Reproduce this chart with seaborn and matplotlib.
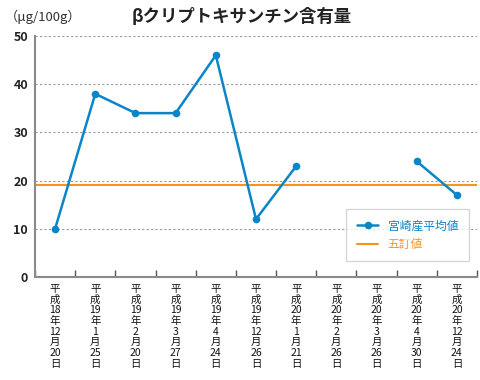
"""βクリプトキサンチン含有量 chart (宮崎産平均値 vs 五訂値)."""

import numpy as np
import pandas as pd
import matplotlib
matplotlib.use("Agg")
import matplotlib.pyplot as plt
from matplotlib.lines import Line2D
from matplotlib.ticker import FixedLocator
import seaborn as sns

# data
dates = [
    ("18", "12", "20"), ("19", "1", "25"), ("19", "2", "20"), ("19", "3", "27"),
    ("19", "4", "24"), ("19", "12", "26"), ("20", "1", "21"), ("20", "2", "26"),
    ("20", "3", "26"), ("20", "4", "30"), ("20", "12", "24"),
]
miyazaki_avg = [10, 38, 34, 34, 46, 12, 23, np.nan, np.nan, 24, 17]
goteichi = 19
y_ticks = [0, 10, 20, 30, 40, 50]

BLUE = "#0a86c8"
ORANGE = "#f7941d"

sns.set_theme(style="white")
plt.rcParams["font.family"] = ["Noto Sans CJK JP", "DejaVu Sans"]

# split into segments at missing values so the line breaks there
df = pd.DataFrame({"x": np.arange(len(miyazaki_avg)), "value": miyazaki_avg})
df["segment"] = df["value"].isna().cumsum()
df = df.dropna()

fig = plt.figure(figsize=(4.8, 3.8), dpi=100)
ax = fig.add_axes([35 / 480, 103 / 380, 442 / 480, 241 / 380])

ax.axhline(goteichi, color=ORANGE, linewidth=1.5, zorder=2)
sns.lineplot(data=df, x="x", y="value", units="segment", estimator=None,
             color=BLUE, linewidth=1.8, marker="o", markersize=5.5,
             markeredgewidth=0, ax=ax, zorder=3)

ax.set_xlim(-0.5, len(dates) - 0.5)
ax.set_ylim(0, 50)
ax.set_yticks(y_ticks)
ax.set_yticklabels([str(t) for t in y_ticks], fontsize=9, fontweight="bold", color="#222222")
ax.grid(axis="y", linestyle=(0, (2, 2)), color="#999999", linewidth=0.8)
ax.tick_params(axis="y", direction="in", length=8, width=1, color="#555555", pad=5)

labels = [f"平\n成\n{y}\n年\n{m}\n月\n{d}\n日" for y, m, d in dates]
ax.set_xticks(np.arange(len(dates)))
ax.set_xticklabels(labels, fontsize=7.5, linespacing=1.08, color="#111111")
ax.xaxis.set_minor_locator(FixedLocator(np.arange(-0.5, len(dates), 1.0)))
ax.tick_params(axis="x", which="major", length=0, pad=5)
ax.tick_params(axis="x", which="minor", direction="in", length=5, width=1,
               color="#555555", bottom=True)

ax.set_xlabel("")
ax.set_ylabel("")
for side in ["top", "right"]:
    ax.spines[side].set_visible(False)
for side in ["left", "bottom"]:
    ax.spines[side].set_color("#8a8a8a")
    ax.spines[side].set_linewidth(1.5)

handles = [
    Line2D([], [], color=BLUE, linewidth=1.8, marker="o", markersize=5.5, markeredgewidth=0),
    Line2D([], [], color=ORANGE, linewidth=1.5),
]
leg = ax.legend(handles, ["宮崎産平均値", "五訂値"], loc="lower right",
                bbox_to_anchor=(0.995, 0.04), fontsize=8.5, frameon=True,
                fancybox=False, edgecolor="#cccccc", handlelength=1.8,
                borderpad=0.9, labelspacing=0.45)
leg.get_frame().set_linewidth(1)
for text, col in zip(leg.get_texts(), [BLUE, ORANGE]):
    text.set_color(col)

fig.text(242 / 480, 1 - 17 / 380, "βクリプトキサンチン含有量", ha="center", va="center",
         fontsize=12.5, fontweight="bold", color="#222222")
fig.text(5 / 480, 1 - 17 / 380, "（μg/100g）", ha="left", va="center",
         fontsize=9.5, color="#333333")

fig.savefig("out.png", dpi=100)
